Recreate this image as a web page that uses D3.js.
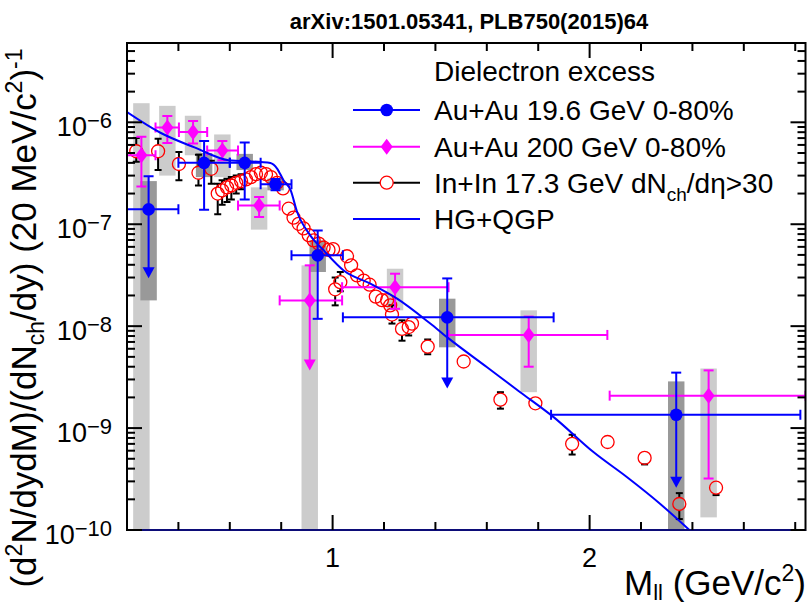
<!DOCTYPE html>
<html><head><meta charset="utf-8">
<script src="https://cdn.jsdelivr.net/npm/d3@7"></script>
<style>
body{margin:0;background:#fff}
text{font-family:"Liberation Sans",Arial,Helvetica,sans-serif;fill:#000}
</style>
</head><body>
<svg id="c" width="810" height="607"></svg>
<script>
// ---------------- axes ----------------
const xDomain = [0.2, 2.84];
const yDomain = [1e-10, 6e-6];
const xMajorTicks = [1, 2];
const xMinorTicks = [0.4, 0.6, 0.8, 1.2, 1.4, 1.6, 1.8, 2.2, 2.4, 2.6, 2.8];
const yMajorExp = [-10, -9, -8, -7, -6];
const yMinorMult = [2, 3, 4, 5, 6, 7, 8, 9];

// ---------------- Au+Au 19.6 GeV 0-80% ----------------
const bes196Mass   = [0.284, 0.500, 0.658, 0.778, 0.942, 1.446, 2.337];
const bes196Val    = [1.4e-7, 4.0e-7, 4.0e-7, 2.47e-7, 4.95e-8, 1.22e-8, 1.35e-9];
const bes196XLo    = [0.20, 0.40, 0.60, 0.72, 0.84, 1.04, 1.85];
const bes196XHi    = [0.40, 0.60, 0.72, 0.84, 1.04, 1.86, 2.82];
const bes196StatHi = [2.96e-7, 6.56e-7, 6.34e-7, 2.78e-7, 8.7e-8, 2.94e-8, 3.5e-9];
const bes196StatLo = [2.95e-8, 1.39e-7, 1.75e-7, 2.15e-7, 1.18e-8, 2.44e-9, 2.6e-10];
const bes196Limit  = [true, false, false, false, false, true, true];
const bes196SysHi  = [2.65e-7, 5.0e-7, 4.9e-7, 2.8e-7, 6.95e-8, 1.86e-8, 2.87e-9];
const bes196SysLo  = [1.79e-8, 2.9e-7, 3.4e-7, 2.15e-7, 3.4e-8, 6.2e-9, 5e-11];

// ---------------- Au+Au 200 GeV 0-80% ----------------
const au200Mass   = [0.256, 0.357, 0.457, 0.571, 0.714, 0.911, 1.243, 1.763, 2.463];
const au200Val    = [4.75e-7, 8.9e-7, 8.05e-7, 5.3e-7, 1.53e-7, 1.79e-8, 2.41e-8, 8.2e-9, 2.08e-9];
const au200XLo    = [0.20, 0.311, 0.402, 0.512, 0.632, 0.794, 1.037, 1.451, 2.078];
const au200XHi    = [0.311, 0.402, 0.512, 0.632, 0.794, 1.037, 1.451, 2.069, 2.84];
const au200StatHi = [7.2e-7, 1.15e-6, 1.03e-6, 6.56e-7, 1.85e-7, 3.95e-8, 3.27e-8, 1.24e-8, 3.68e-9];
const au200StatLo = [2.35e-7, 6.28e-7, 6.2e-7, 4.25e-7, 1.18e-7, 3.68e-9, 1.48e-8, 4.0e-9, 3.2e-10];
const au200Limit  = [false, false, false, false, false, true, false, false, false];
const au200SysHi  = [1.54e-6, 1.45e-6, 1.16e-6, 7.6e-7, 2.3e-7, 3.95e-8, 3.66e-8, 1.43e-8, 3.84e-9];
const au200SysLo  = [5e-11, 3.0e-7, 4.75e-7, 2.9e-7, 8.85e-8, 5e-11, 1.43e-8, 2.25e-9, 1.33e-10];

// ---------------- In+In 17.3 GeV ----------------
const inMass = [0.236, 0.321, 0.402, 0.478, 0.528, 0.553, 0.570, 0.589, 0.606, 0.625,
                0.644, 0.663, 0.682, 0.702, 0.721, 0.741, 0.760, 0.784, 0.807, 0.829,
                0.848, 0.868, 0.887, 0.907, 0.926, 0.946, 0.965, 0.984, 1.002, 1.010,
                1.030, 1.056, 1.072, 1.095, 1.121, 1.144, 1.168, 1.192, 1.212, 1.224,
                1.231, 1.270, 1.296, 1.309, 1.370, 1.510, 1.653, 1.789, 1.932, 2.070,
                2.214, 2.349, 2.492];
const inVal  = [5.2e-7, 5.2e-7, 3.9e-7, 3.2e-7, 3.5e-7, 2.0e-7, 2.15e-7, 2.3e-7, 2.4e-7, 2.55e-7,
                2.65e-7, 2.75e-7, 2.9e-7, 3.1e-7, 3.2e-7, 3.1e-7, 2.9e-7, 2.55e-7, 2.25e-7, 1.42e-7,
                1.16e-7, 1.01e-7, 9.1e-8, 7.8e-8, 6.95e-8, 6.45e-8, 5.9e-8, 5.6e-8, 5.7e-8, 2.3e-8,
                2.7e-8, 4.85e-8, 3.95e-8, 3.15e-8, 2.8e-8, 2.55e-8, 1.95e-8, 1.8e-8, 1.8e-8, 1.6e-8,
                1.3e-8, 9.4e-9, 9.8e-9, 1.06e-8, 6.3e-9, 4.5e-9, 1.9e-9, 1.75e-9, 7.0e-10, 7.3e-10,
                5.1e-10, 1.8e-10, 2.6e-10];
const inErrLo = [4.1e-7, 3.4e-7, 2.7e-7, 2.4e-7, 2.5e-7, 1.25e-7, 1.55e-7, 1.65e-7, 1.75e-7, 2.0e-7,
                 2.2e-7, 2.4e-7, 2.6e-7, 2.8e-7, 2.95e-7, 2.9e-7, 2.7e-7, 2.4e-7, 2.1e-7, 1.33e-7,
                 1.08e-7, 9.4e-8, 8.5e-8, 7.3e-8, 6.5e-8, 6.0e-8, 5.5e-8, 5.2e-8, 5.3e-8, 1.6e-8,
                 2.2e-8, 4.5e-8, 3.7e-8, 2.9e-8, 2.6e-8, 2.35e-8, 1.8e-8, 1.65e-8, 1.65e-8, 1.48e-8,
                 1.06e-8, 7.2e-9, 8.1e-9, 9.8e-9, 5.3e-9, 4.1e-9, 1.55e-9, 1.6e-9, 5.5e-10, 6.7e-10,
                 4.4e-10, 1.28e-10, 2.2e-10];
const inErrHi = [7.0e-7, 6.9e-7, 5.1e-7, 4.8e-7, 4.2e-7, 2.5e-7, 2.7e-7, 2.8e-7, 2.9e-7, 3.0e-7,
                 3.1e-7, 3.1e-7, 3.2e-7, 3.4e-7, 3.45e-7, 3.3e-7, 3.1e-7, 2.7e-7, 2.4e-7, 1.51e-7,
                 1.24e-7, 1.08e-7, 9.7e-8, 8.3e-8, 7.4e-8, 6.9e-8, 6.3e-8, 6.0e-8, 6.1e-8, 3.0e-8,
                 3.4e-8, 5.2e-8, 4.2e-8, 3.4e-8, 3.0e-8, 2.75e-8, 2.1e-8, 1.95e-8, 1.95e-8, 1.72e-8,
                 1.6e-8, 1.14e-8, 1.06e-8, 1.14e-8, 7.4e-9, 4.9e-9, 2.25e-9, 1.9e-9, 8.6e-10, 7.9e-10,
                 5.6e-10, 2.3e-10, 2.95e-10];

// ---------------- HG+QGP model ----------------
const modelMass = [0.20, 0.33, 0.465, 0.595, 0.720, 0.758, 0.784, 0.809, 0.837, 0.861,
                   0.913, 0.965, 1.043, 1.147, 1.251, 1.380, 1.445, 1.601, 1.730, 1.860,
                   2.016, 2.146, 2.275, 2.392];
const modelVal  = [1.26e-6, 7.9e-7, 5.64e-7, 4.25e-7, 4.08e-7, 3.99e-7, 3.52e-7, 2.70e-7, 2.15e-7, 1.34e-7,
                   7.78e-8, 5.55e-8, 3.52e-8, 2.61e-8, 1.86e-8, 1.06e-8, 7.8e-9, 3.95e-9, 2.25e-9, 1.28e-9,
                   5.78e-10, 3.29e-10, 1.80e-10, 9.8e-11];

const legendLabels = ["Au+Au 19.6 GeV 0-80%", "Au+Au 200 GeV 0-80%", "In+In 17.3 GeV dN", "HG+QGP"];

// =====================================================
const svg = d3.select('#c');
const X0 = 127, X1 = 805.5, Y0 = 43, Y1 = 530;
const x = d3.scaleLinear().domain(xDomain).range([X0, X1]);
const y = d3.scaleLog().domain(yDomain).range([Y1, Y0]);
const BLUE = '#0000ff', MAG = '#ff00ff', RED = '#ff0000';
const boxHalf = 0.032;

svg.append('defs').append('clipPath').attr('id', 'clip')
  .append('rect').attr('x', X0).attr('y', Y0).attr('width', X1 - X0).attr('height', Y1 - Y0);
const plot = svg.append('g').attr('clip-path', 'url(#clip)');

// systematic boxes
function boxes(mass, hi, lo, fill) {
  plot.append('g').selectAll('rect').data(mass).join('rect')
    .attr('x', (m) => x(m - boxHalf))
    .attr('width', (m) => x(m + boxHalf) - x(m - boxHalf))
    .attr('y', (m, i) => y(hi[i]))
    .attr('height', (m, i) => y(lo[i]) - y(hi[i]))
    .attr('fill', fill);
}
boxes(au200Mass, au200SysHi, au200SysLo, '#cccccc');
boxes(bes196Mass, bes196SysHi, bes196SysLo, '#999999');

// In+In points
const R = 6.5;
const gIn = plot.append('g');
inMass.forEach((m, i) => {
  const cx = x(m), cy = y(inVal[i]);
  const yh = y(inErrHi[i]), yl = y(inErrLo[i]);
  const seg = (a, b) => gIn.append('line').attr('x1', cx).attr('x2', cx).attr('y1', a).attr('y2', b)
    .attr('stroke', '#000').attr('stroke-width', 2);
  if (yh < cy - R) {
    seg(yh, cy - R);
    gIn.append('line').attr('x1', cx - 3.5).attr('x2', cx + 3.5).attr('y1', yh).attr('y2', yh).attr('stroke', '#000').attr('stroke-width', 2);
  }
  if (yl > cy + R) {
    seg(cy + R, yl);
    gIn.append('line').attr('x1', cx - 3.5).attr('x2', cx + 3.5).attr('y1', yl).attr('y2', yl).attr('stroke', '#000').attr('stroke-width', 2);
  }
});
gIn.selectAll('circle').data(inMass).join('circle')
  .attr('cx', (m) => x(m)).attr('cy', (m, i) => y(inVal[i])).attr('r', R)
  .attr('fill', 'none').attr('stroke', RED).attr('stroke-width', 1.3);

// series with x/y error bars
function errSeries(mass, val, xlo, xhi, ylo, yhi, lim, color, marker) {
  const g = plot.append('g').attr('stroke', color).attr('stroke-width', 2);
  const cap = 5;
  mass.forEach((m, i) => {
    const cx = x(m), cy = y(val[i]);
    const xl = x(xlo[i]), xr = x(xhi[i]);
    g.append('line').attr('x1', xl).attr('x2', xr).attr('y1', cy).attr('y2', cy);
    g.append('line').attr('x1', xl).attr('x2', xl).attr('y1', cy - cap).attr('y2', cy + cap);
    g.append('line').attr('x1', xr).attr('x2', xr).attr('y1', cy - cap).attr('y2', cy + cap);
    const yh = y(yhi[i]), yl = y(ylo[i]);
    g.append('line').attr('x1', cx).attr('x2', cx).attr('y1', yh).attr('y2', lim[i] ? yl - 9 : yl);
    g.append('line').attr('x1', cx - cap).attr('x2', cx + cap).attr('y1', yh).attr('y2', yh);
    if (lim[i]) {
      g.append('path').attr('d', `M${cx - 6},${yl - 11}L${cx + 6},${yl - 11}L${cx},${yl}Z`)
        .attr('fill', color).attr('stroke', 'none');
    } else {
      g.append('line').attr('x1', cx - cap).attr('x2', cx + cap).attr('y1', yl).attr('y2', yl);
    }
    marker(g, cx, cy);
  });
}
const diamond = (g, cx, cy) => g.append('path')
  .attr('d', `M${cx},${cy - 8}L${cx + 6},${cy}L${cx},${cy + 8}L${cx - 6},${cy}Z`)
  .attr('fill', MAG).attr('stroke', 'none');
const dot = (g, cx, cy) => g.append('circle').attr('cx', cx).attr('cy', cy).attr('r', 6.3)
  .attr('fill', BLUE).attr('stroke', 'none');

errSeries(au200Mass, au200Val, au200XLo, au200XHi, au200StatLo, au200StatHi, au200Limit, MAG, diamond);
errSeries(bes196Mass, bes196Val, bes196XLo, bes196XHi, bes196StatLo, bes196StatHi, bes196Limit, BLUE, dot);

// model curve
const line = d3.line().x((d) => x(d[0])).y((d) => y(d[1])).curve(d3.curveMonotoneX);
plot.append('path').datum(modelMass.map((m, i) => [m, modelVal[i]]))
  .attr('d', line).attr('fill', 'none').attr('stroke', BLUE).attr('stroke-width', 2);

// frame
svg.append('rect').attr('x', X0).attr('y', Y0).attr('width', X1 - X0).attr('height', Y1 - Y0)
  .attr('fill', 'none').attr('stroke', '#000').attr('stroke-width', 2);
// model lying on the lower frame edge
svg.append('line').attr('x1', X0).attr('x2', X1).attr('y1', y(yDomain[0])).attr('y2', y(yDomain[0]))
  .attr('stroke', '#1010a0').attr('stroke-width', 1.6);

// ticks
const tg = svg.append('g').attr('stroke', '#000').attr('stroke-width', 2);
function xt(vals, len) {
  vals.forEach((v) => {
    tg.append('line').attr('x1', x(v)).attr('x2', x(v)).attr('y1', Y1).attr('y2', Y1 - len);
    tg.append('line').attr('x1', x(v)).attr('x2', x(v)).attr('y1', Y0).attr('y2', Y0 + len);
  });
}
xt(xMajorTicks, 15); xt(xMinorTicks, 8);
function yt(v, len) {
  tg.append('line').attr('y1', y(v)).attr('y2', y(v)).attr('x1', X0).attr('x2', X0 + len);
  tg.append('line').attr('y1', y(v)).attr('y2', y(v)).attr('x1', X1).attr('x2', X1 - len);
}
yMajorExp.forEach((e) => {
  yt(Math.pow(10, e), 15);
  yMinorMult.forEach((k) => { const v = k * Math.pow(10, e); if (v < yDomain[1]) yt(v, 8); });
});

// tick labels
xMajorTicks.forEach((v) => {
  svg.append('text').attr('x', x(v)).attr('y', 567).attr('text-anchor', 'middle')
    .attr('font-size', 27).text(v);
});
yMajorExp.forEach((e) => {
  const t = svg.append('text').attr('x', 112).attr('y', y(Math.pow(10, e)) + 14).attr('text-anchor', 'end');
  t.append('tspan').attr('font-size', 27).text('10');
  t.append('tspan').attr('font-size', 22).attr('dy', -8).text('\u2212' + Math.abs(e));
});

// title
svg.append('text').attr('x', 469).attr('y', 29).attr('text-anchor', 'middle')
  .attr('font-size', 22).attr('font-weight', 'bold').text('arXiv:1501.05341, PLB750(2015)64');

// x title
const xtT = svg.append('text').attr('x', 806).attr('y', 595).attr('text-anchor', 'end').attr('font-size', 35);
xtT.append('tspan').text('M');
xtT.append('tspan').attr('font-size', 22).attr('dy', 5).text('ll');
xtT.append('tspan').attr('dy', -5).text(' (GeV/c');
xtT.append('tspan').attr('font-size', 23).attr('dy', -14).text('2');
xtT.append('tspan').attr('dy', 14).text(')');

// y title
const ytT = svg.append('text').attr('transform', 'translate(36,318) rotate(-90)')
  .attr('text-anchor', 'middle').attr('font-size', 35);
ytT.append('tspan').text('(d');
ytT.append('tspan').attr('font-size', 23).attr('dy', -14).text('2');
ytT.append('tspan').attr('dy', 14).text('N/dydM)/(dN');
ytT.append('tspan').attr('font-size', 23).attr('dy', 8).text('ch');
ytT.append('tspan').attr('dy', -8).text('/dy) (20 MeV/c');
ytT.append('tspan').attr('font-size', 23).attr('dy', -14).text('2');
ytT.append('tspan').attr('dy', 14).text(')');
ytT.append('tspan').attr('font-size', 23).attr('dy', -14).text('-1');

// legend
const LX0 = 353, LX1 = 420, LM = 386.7, LT = 434;
const legY = [110, 146.7, 182.7, 219];
svg.append('text').attr('x', LT).attr('y', 81).attr('font-size', 28).text('Dielectron excess');
const lg = svg.append('g');
const lline = (yy, c) => lg.append('line').attr('x1', LX0).attr('x2', LX1).attr('y1', yy).attr('y2', yy)
  .attr('stroke', c).attr('stroke-width', 2);
lline(legY[0], BLUE); dot(lg, LM, legY[0]);
lline(legY[1], MAG); diamond(lg, LM, legY[1]);
lline(legY[2], '#000');
lg.append('circle').attr('cx', LM).attr('cy', legY[2]).attr('r', R).attr('fill', '#fff')
  .attr('stroke', RED).attr('stroke-width', 1.3);
lline(legY[3], BLUE);
legendLabels.forEach((s, i) => {
  const t = svg.append('text').attr('x', LT).attr('y', legY[i] + 10).attr('font-size', 28);
  t.append('tspan').text(s);
  if (i === 2) {
    t.append('tspan').attr('font-size', 19).attr('dy', 8).text('ch');
    t.append('tspan').attr('dy', -8).text('/d\u03b7>30');
  }
});
</script>
</body></html>
